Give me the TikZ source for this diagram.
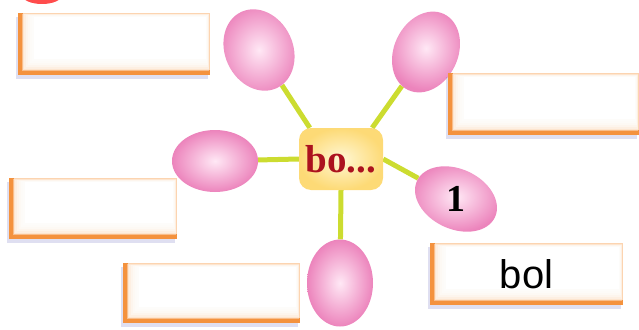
\documentclass[tikz,border=0pt]{standalone}
\usepackage{fontspec}
\newfontfamily\wordfont{Liberation Sans}
\newfontfamily\hubfont{Liberation Serif}
\usetikzlibrary{shapes.geometric,shadows,backgrounds}

\definecolor{stemgreen}{RGB}{204,220,48}
\definecolor{petalpink}{RGB}{236,132,188}
\definecolor{petallight}{RGB}{255,232,245}
\definecolor{frameorange}{RGB}{244,146,62}
\definecolor{framelight}{RGB}{252,212,176}
\definecolor{hubyellow}{RGB}{253,218,118}
\definecolor{hublight}{RGB}{255,247,212}
\definecolor{hubred}{RGB}{172,18,30}

\tikzset{
  petal/.style={ellipse, inner sep=0pt, shading=radial, inner color=petallight, outer color=petalpink},
  stem/.style={draw=stemgreen, line width=5pt},
  wordbox/.style={rectangle, inner sep=0pt, fill=framelight,
    drop shadow={shadow xshift=-2pt, shadow yshift=-4pt, opacity=0.18, fill=gray!60!blue},
    path picture={
      \fill[frameorange] (path picture bounding box.south west) rectangle ([xshift=5pt]path picture bounding box.north west);
      \fill[frameorange] (path picture bounding box.south west) rectangle ([yshift=5pt]path picture bounding box.south east);
      \foreach \a/\b in {4/1,6/1.5,8/2,10/2.5,12/3,14/3.5}
        \fill[white, opacity=0.4] ([shift={(\a pt,\a pt)}]path picture bounding box.south west) rectangle ([shift={(-\b pt,-\b pt)}]path picture bounding box.north east);
      \fill[white] ([shift={(16pt,16pt)}]path picture bounding box.south west) rectangle ([shift={(-4pt,-4pt)}]path picture bounding box.north east);
    }},
}

\begin{document}
\begin{tikzpicture}[x=1pt,y=1pt,yscale=-1]
    \useasboundingbox (0,0) rectangle (639,329);
    % red mark at the top edge
    \fill[red!70!white] (42,-5) ellipse [x radius=20, y radius=9];

    % hub
    \node (hub) [rectangle, rounded corners=12pt, minimum width=84pt, minimum height=62pt, shading=radial, inner color=hublight, outer color=hubyellow]
        at (341,159) {\hubfont\bfseries\fontsize{39}{42}\selectfont\color{hubred}bo...};

    % petals
    \node (petalTL) [petal, minimum width=68pt, minimum height=84pt, rotate=25] at (259,50) {};
    \node (petalTR) [petal, minimum width=64pt, minimum height=84pt, rotate=-25] at (426,52) {};
    \node (petalL) [petal, minimum width=86pt, minimum height=62pt] at (215,161) {};
    \node (petalR) [petal, minimum width=86pt, minimum height=60pt, rotate=-25] at (456,199) {};
    \node (petalB) [petal, minimum width=66pt, minimum height=87pt] at (340,283) {};
    \node (one) at (petalR.center) {\hubfont\bfseries\fontsize{38}{40}\selectfont 1};

    % stems
    \begin{scope}[on background layer]
        \draw[stem] (hub.135) -- (petalTL);
        \draw[stem] (hub.45) -- (petalTR);
        \draw[stem] (hub.west) -- (petalL);
        \draw[stem] (hub.east) -- (petalR);
        \draw[stem] (hub.south) -- (petalB);
    \end{scope}

    % word boxes
    \node (boxA) [wordbox, minimum width=192pt, minimum height=62pt] at (114,44) {};
    \node (boxB) [wordbox, minimum width=191pt, minimum height=62pt] at (543.5,104) {};
    \node (boxC) [wordbox, minimum width=168pt, minimum height=61pt] at (93,208.5) {};
    \node (boxD) [wordbox, minimum width=177pt, minimum height=60pt] at (211.5,293) {};
    \node (boxE) [wordbox, minimum width=193pt, minimum height=62pt] at (526.5,274) {\wordfont\fontsize{40}{44}\selectfont bol};
\end{tikzpicture}
\end{document}
